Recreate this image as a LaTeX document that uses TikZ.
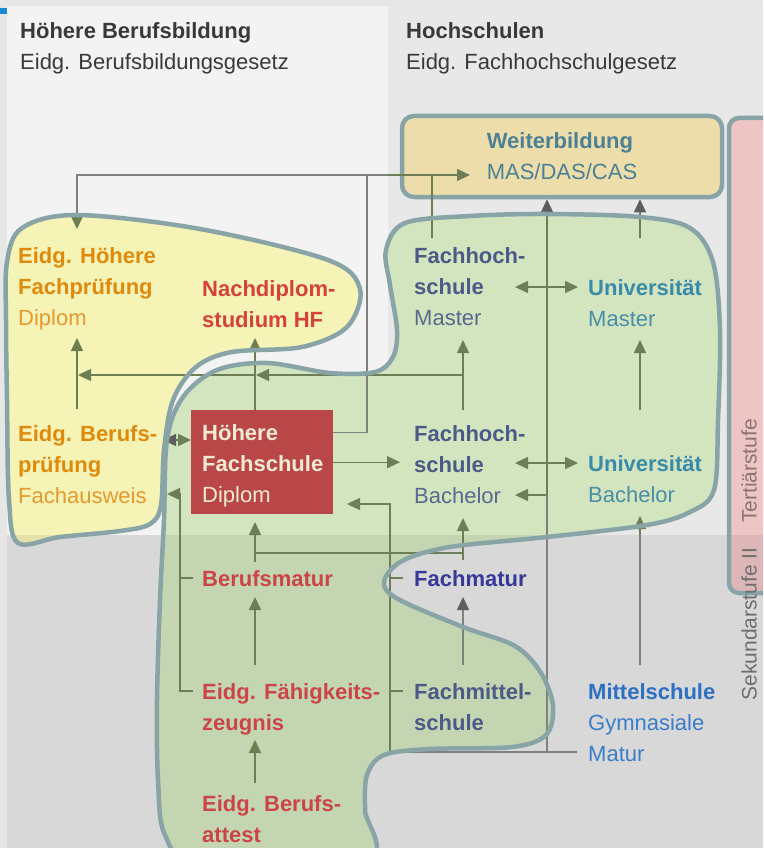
\documentclass[tikz,border=0pt]{standalone}
\usepackage{fontspec}
\setmainfont{Liberation Sans}
\usepackage{xcolor}
\usepackage{tikz}
\usetikzlibrary{arrows.meta}

\definecolor{rand}{HTML}{E6E6E6}
\definecolor{feldL}{HTML}{F3F3F3}
\definecolor{feldR}{HTML}{E8E8E8}
\definecolor{markBlau}{HTML}{1A8AD4}
\definecolor{gelb}{HTML}{F5F3B6}
\definecolor{gruen}{HTML}{D2E5BF}
\definecolor{rahmen}{HTML}{88A4A7}
\definecolor{rosa}{HTML}{EDC5C5}
\definecolor{sand}{HTML}{EDDDAB}
\definecolor{rotHF}{HTML}{B94747}
\definecolor{oliv}{HTML}{6E7E54}
\definecolor{linieGrau}{HTML}{808080}
\definecolor{pfeilGrau}{HTML}{5E5E5E}
\definecolor{orange}{HTML}{E08A0C}
\definecolor{orangeHell}{HTML}{E5992E}
\definecolor{rot}{HTML}{CB4548}
\definecolor{rotHell}{HTML}{D6423A}
\definecolor{schiefer}{HTML}{4B5A87}
\definecolor{schieferHell}{HTML}{5A6890}
\definecolor{petrol}{HTML}{3A8BAA}
\definecolor{petrolHell}{HTML}{4A8DA8}
\definecolor{violett}{HTML}{38389A}
\definecolor{blau}{HTML}{2C70C4}
\definecolor{blauHell}{HTML}{3A7DCA}
\definecolor{creme}{HTML}{F3EBD3}
\definecolor{titel}{HTML}{393939}
\definecolor{weiter}{HTML}{4B8095}
\definecolor{tertiaer}{HTML}{8E7373}
\definecolor{sekundar}{HTML}{6E6E6E}

\tikzset{
  spitze/.tip={Triangle[length=13pt, width=12pt, color=oliv]},
  spitzeG/.tip={Triangle[length=13pt, width=12pt, color=pfeilGrau]},
}

\begin{document}
\begin{tikzpicture}[x=1pt, y=-1pt,
    txt/.style={inner sep=0pt, anchor=north west, align=left,
                font=\fontsize{22}{31}\selectfont},
    linie/.style={draw=oliv, line width=1.4pt},
    grau/.style={draw=linieGrau, line width=1.4pt},
    blob/.style={draw=rahmen, line width=4.5pt, line join=round}]

    \clip (0,0) rectangle (763,848);

    % Hintergrund
    \fill[rand] (0,0) rectangle (763,848);
    \fill[feldL] (7,6) rectangle (388,535);
    \fill[feldR] (388,6) rectangle (763,535);
    \fill[feldR] (7,535) rectangle (763,848);
    \fill[markBlau] (0,8) rectangle (7,14);

    % Flaechen
    \path[save path=\gelbpfad] plot[smooth cycle, tension=0.55] coordinates {
        (7,262) (22,228) (77,215) (200,229) (328,260) (360,289) (347,327)
        (302,347) (232,352) (196,367) (173,400) (164,450) (161,505) (150,524)
        (120,531) (60,537) (18,543) (9,500) (7,400) (6,320)};
    \path[save path=\gruenpfad] plot[smooth cycle, tension=0.55] coordinates {
        (386,250) (405,223) (470,216) (547,214) (640,217) (690,228) (713,262)
        (720,330) (718,420) (714,490) (690,512) (647,525) (547,537) (450,547)
        (402,561) (384,582) (398,599) (463,627) (515,646) (541,673) (553,706)
        (546,735) (512,747) (430,749) (384,755) (367,775) (365,810) (366,860)
        (200,862) (165,835) (158,780) (157,700) (160,600) (164,520) (167,440)
        (183,397) (217,370) (267,363) (330,373) (375,372) (393,357) (397,330)
        (390,285)};
    \path[save path=\rosapfad] [rounded corners=10pt] (729,118) rectangle (785,593);
    \fill[gelb, use path=\gelbpfad];
    \fill[gruen, use path=\gruenpfad];
    \fill[rosa, use path=\rosapfad];

    % Sekundarstufe dunkler
    \fill[black, opacity=0.065] (7,535) rectangle (763,848);

    % Kaesten
    \node[draw=rahmen, line width=4.5pt, fill=sand, rounded corners=12pt,
          minimum width=320pt, minimum height=81pt, inner sep=0pt, align=left,
          text depth=0pt, font=\fontsize{22}{31}\selectfont, text=weiter]
        (wb) at (562,156.5) {\textbf{Weiterbildung}\\MAS/DAS/CAS};
    \node[fill=rotHF, minimum width=142pt, minimum height=104pt, text width=120pt,
          inner sep=0pt, align=left, anchor=north west,
          font=\fontsize{22}{31}\selectfont, text=creme]
        (hf) at (191,410) {\rule{0pt}{24pt}\textbf{Höhere}\\\textbf{Fachschule}\\Diplom};

    % Punkte der Verbindungen
    \coordinate (oL) at (77,175);
    \coordinate (oM) at (367,175);
    \coordinate (oG) at (388,175);
    \coordinate (oF) at (432,175);
    \coordinate (wbPfeil) at (470,175);
    \coordinate (hfpOben) at (77,229);
    \coordinate (fhmOben) at (432,238);
    \coordinate (hfpUnten) at (77,338);
    \coordinate (bpOben) at (77,409);
    \coordinate (mL) at (78,375);
    \coordinate (mB) at (256,375);
    \coordinate (mC) at (463,375);
    \coordinate (ndsUnten) at (255,338);
    \coordinate (fhmUnten) at (463,340);
    \coordinate (fhbOben) at (463,410);
    \coordinate (bpRechts) at (163,440);
    \coordinate (fhbLinks) at (400,463);
    \coordinate (fhmR) at (515,287);
    \coordinate (umL) at (578,287);
    \coordinate (fhbR) at (515,463);
    \coordinate (ubL) at (578,463);
    \coordinate (fhbPfeil) at (515,495);
    \coordinate (dJ) at (547,495);
    \coordinate (dU) at (547,752);
    \coordinate (msL) at (577,752);
    \coordinate (umOben) at (640,238);
    \coordinate (umUnten) at (640,340);
    \coordinate (ubOben) at (640,410);
    \coordinate (ubUnten) at (640,516);
    \coordinate (eJ) at (640,535);
    \coordinate (msOben) at (640,665);
    \coordinate (hfUnten) at (255,522);
    \coordinate (bmOben) at (255,562);
    \coordinate (bmJ) at (255,553);
    \coordinate (fhbUnten) at (463,518);
    \coordinate (fmOben) at (463,560);
    \coordinate (bmUnten) at (255,597);
    \coordinate (efzOben) at (255,665);
    \coordinate (efzUnten) at (255,740);
    \coordinate (ebaOben) at (255,783);
    \coordinate (fmUnten) at (463,597);
    \coordinate (fmsOben) at (463,665);
    \coordinate (bpPfeil) at (167,494);
    \coordinate (kL) at (180,691);
    \coordinate (hfPfeil) at (347,504);
    \coordinate (kR) at (390,752);

    % Verbindungen oben
    \draw[grau, spitze-] (hfpOben) -- (oL) -- (oG);
    \draw[linie, -spitze] (oG) -- (wbPfeil);
    \draw[linie] (fhmOben) -- (oF);
    \draw[grau] ([yshift=30pt]hf.east) -| (oM);

    % Tertiaerstufe
    \draw[linie, -spitze] (bpOben) -- (hfpUnten);
    \draw[linie, -spitze] (mC) -- (mB);
    \draw[linie, -spitze] (mB) -- (mL);
    \draw[linie, -spitze] (fhbOben) -- (fhmUnten);
    \draw[linie, -spitze] (hf.north -| ndsUnten) -- (ndsUnten);
    \draw[linie, spitzeG-spitze] (bpRechts) -- (bpRechts -| hf.west);
    \draw[linie, -spitze] (hf.east) -- (hf.east -| fhbLinks);
    \draw[linie, spitze-spitze] (fhmR) -- (umL);
    \draw[linie, spitze-spitze] (fhbR) -- (ubL);

    % mittlere Achse
    \draw[linie, -spitzeG] (dJ) -- (wb.south -| dJ);
    \draw[linie, -spitze] (dJ) -- (fhbPfeil);
    \draw[grau] (dJ) -- (dU);
    \draw[linie, -spitzeG] (umOben) -- (wb.south -| umOben);
    \draw[linie, -spitze] (ubOben) -- (umUnten);
    \draw[grau] (msOben) -- (eJ);
    \draw[linie, -spitze] (eJ) -- (ubUnten);

    % Sekundarstufe II
    \draw[linie, -spitze] (bmOben) -- (hfUnten);
    \draw[linie, -spitze] (bmJ) -| (fhbUnten);
    \draw[linie] (fmOben) -- (fmOben |- bmJ);
    \draw[linie, -spitze] (efzOben) -- (bmUnten);
    \draw[linie, -spitze] (ebaOben) -- (efzUnten);
    \draw[grau, -spitzeG] (fmsOben) -- (fmUnten);

    % Klammern
    \draw[linie, spitze-] (bpPfeil) -| (kL) -- +(13,0);
    \draw[linie] (kL |- 0,578) -- +(13,0);
    \draw[linie, spitze-] (hfPfeil) -| (kR);
    \draw[linie] (kR |- 0,578) -- +(13,0);
    \draw[linie] (kR |- kL) -- +(13,0);
    \draw[grau] (kR) -- (msL);

    % Umrisse
    \draw[blob, use path=\gelbpfad];
    \draw[blob, use path=\gruenpfad];
    \draw[blob, use path=\rosapfad];

    % Titel
    \node[txt, text=titel] (hbb) at (20,22)
        {\textbf{Höhere Berufsbildung}\\Eidg. Berufsbildungsgesetz};
    \node[txt, text=titel] (hs) at (406,22)
        {\textbf{Hochschulen}\\Eidg. Fachhochschulgesetz};

    % Bildungsgaenge
    \node[txt, text=orange] (hfp) at (18,247)
        {\textbf{Eidg. Höhere}\\\textbf{Fachprüfung}\\\textcolor{orangeHell}{Diplom}};
    \node[txt, text=rotHell] (nds) at (202,280)
        {\textbf{Nachdiplom-}\\\textbf{studium HF}};
    \node[txt, text=orange] (bp) at (18,425)
        {\textbf{Eidg. Berufs-}\\\textbf{prüfung}\\\textcolor{orangeHell}{Fachausweis}};
    \node[txt, text=schiefer] (fhm) at (414,247)
        {\textbf{Fachhoch-}\\\textbf{schule}\\\textcolor{schieferHell}{Master}};
    \node[txt, text=petrol] (um) at (588,279)
        {\textbf{Universität}\\\textcolor{petrolHell}{Master}};
    \node[txt, text=schiefer] (fhb) at (414,425)
        {\textbf{Fachhoch-}\\\textbf{schule}\\\textcolor{schieferHell}{Bachelor}};
    \node[txt, text=petrol] (ub) at (588,455)
        {\textbf{Universität}\\\textcolor{petrolHell}{Bachelor}};
    \node[txt, text=rot] (bm) at (202,570) {\textbf{Berufsmatur}};
    \node[txt, text=violett] (fm) at (414,570) {\textbf{Fachmatur}};
    \node[txt, text=rot] (efz) at (202,683)
        {\textbf{Eidg. Fähigkeits-}\\\textbf{zeugnis}};
    \node[txt, text=schiefer] (fms) at (414,683)
        {\textbf{Fachmittel-}\\\textbf{schule}};
    \node[txt, text=blau] (ms) at (588,683)
        {\textbf{Mittelschule}\\\textcolor{blauHell}{Gymnasiale}\\\textcolor{blauHell}{Matur}};
    \node[txt, text=rot] (eba) at (202,795)
        {\textbf{Eidg. Berufs-}\\\textbf{attest}};

    % Stufen
    \node[rotate=90, inner sep=0pt, font=\fontsize{21}{25}\selectfont, text=tertiaer]
        (tert) at (749,471) {Tertiärstufe};
    \node[rotate=90, inner sep=0pt, font=\fontsize{21}{25}\selectfont, text=sekundar]
        (sek) at (749,624) {Sekundarstufe II};

\end{tikzpicture}
\end{document}
